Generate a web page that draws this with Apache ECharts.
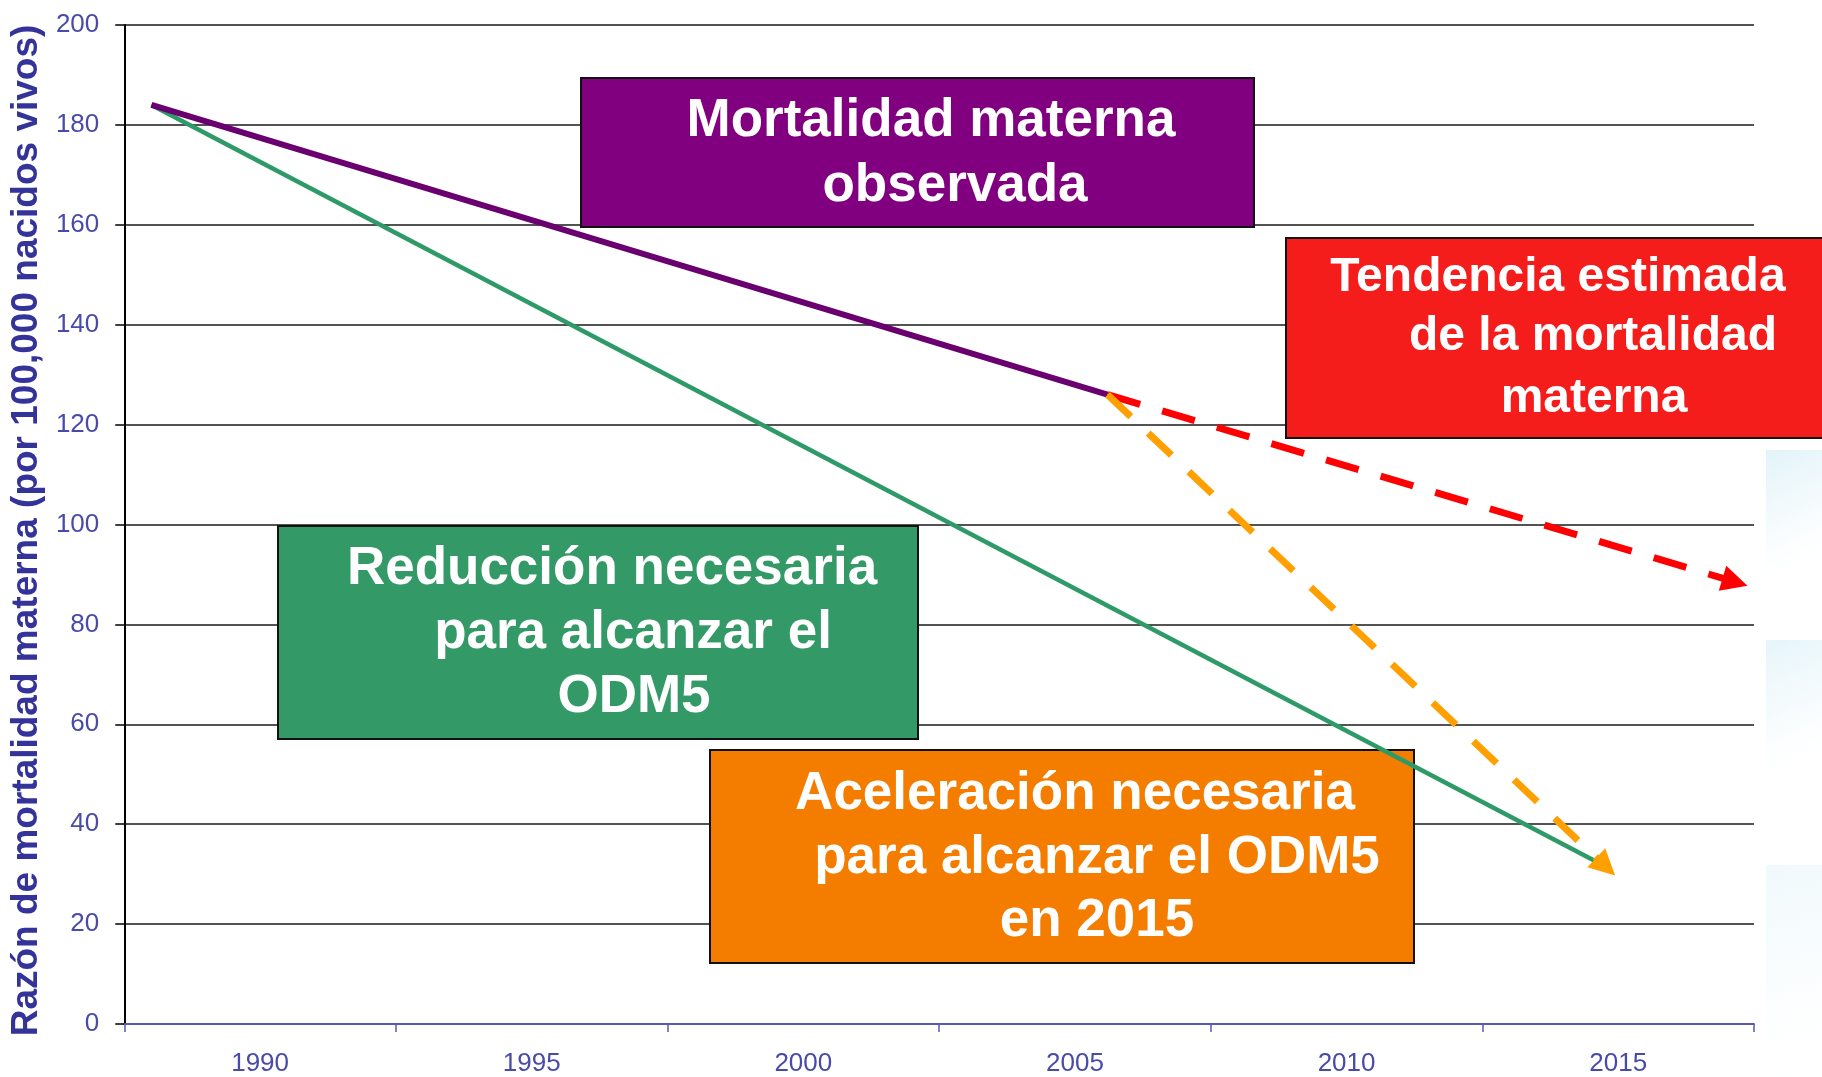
<!DOCTYPE html>
<html>
<head>
<meta charset="utf-8">
<script src="https://cdn.jsdelivr.net/npm/echarts@6/dist/echarts.min.js"></script>
<style>
html,body{margin:0;padding:0;background:#ffffff;}
#chart{width:1822px;height:1077px;}
</style>
</head>
<body>
<div id="chart"></div>
<script>
// ---- data ----
const yearCategories = ['1988','1989','1990','1991','1992','1993','1994','1995','1996','1997',
  '1998','1999','2000','2001','2002','2003','2004','2005','2006','2007',
  '2008','2009','2010','2011','2012','2013','2014','2015','2016','2017'];
const tickLabels = ['1990','1995','2000','2005','2010','2015'];
const yTicks = [0,20,40,60,80,100,120,140,160,180,200];

const observedYears = [1988, 2005.6];
const observedValues = [184, 126];
const requiredYears = [1988, 2014.6];
const requiredValues = [184, 32.5];
const trendYears = [2005.6, 2017.15];
const trendValues = [126, 88.5];
const accelYears = [2005.6, 2014.77];
const accelValues = [126, 31.5];

const yAxisTitle = 'Razón de mortalidad materna (por 100,000 nacidos vivos)';
const boxObserved = ['Mortalidad materna', 'observada'];
const boxTrend = ['Tendencia estimada', 'de la mortalidad', 'materna'];
const boxRequired = ['Reducción necesaria', 'para alcanzar el', 'ODM5'];
const boxAccel = ['Aceleración necesaria', 'para alcanzar el ODM5', 'en 2015'];

// ---- helpers ----
function pairs(xs, ys){ return xs.map((x,i)=>[x, ys[i]]); }
const FONT = '"Liberation Sans", Arial, sans-serif';

function box(x, y, w, h, fill, lines, centers, ys, size){
  const els = [{
    type:'rect', z:5,
    shape:{x:x, y:y, width:w, height:h},
    style:{fill:fill, stroke:'#111', lineWidth:2}
  }];
  lines.forEach((t,i)=>{
    els.push({
      type:'text', z:6,
      x:centers[i], y:ys[i],
      style:{text:t, fill:'#ffffff', fontSize:size, fontWeight:'bold', fontFamily:FONT,
             align:'center', verticalAlign:'middle'}
    });
  });
  return els;
}

const chart = echarts.init(document.getElementById('chart'), null, {renderer:'canvas'});

function blob(y, h, a){
  return {type:'rect', z:1, shape:{x:1766, y:y, width:56, height:h},
    style:{fill:new echarts.graphic.LinearGradient(0,0,1,1,[
      {offset:0,color:'rgba(212,238,247,'+a+')'},
      {offset:0.5,color:'rgba(232,246,251,'+(a*0.7)+')'},
      {offset:1,color:'rgba(255,255,255,0)'}])}};
}

const graphics = [].concat(
  [blob(450, 120, 0.7), blob(640, 130, 0.6), blob(865, 212, 0.35)],
  box(581, 78, 673, 149, '#800080', boxObserved, [931, 955], [121, 186], 53),
  box(1286, 238, 545, 200, '#F51C1C', boxTrend, [1558, 1593, 1594], [278, 337, 399], 48),
  box(278, 526, 640, 213, '#339966', boxRequired, [612, 633, 634], [569, 633, 697], 53),
  box(710, 750, 704, 213, '#F47D00', boxAccel, [1075, 1097, 1097], [794, 858, 921], 53)
);

const option = {
  backgroundColor:'#ffffff',
  animation:false,
  grid:{left:124, right:68, top:25, bottom:50, containLabel:false},
  xAxis:[{
    type:'category',
    data:yearCategories,
    boundaryGap:true,
    axisLine:{show:true, lineStyle:{color:'#5a5ab4', width:2}},
    axisTick:{show:true, length:8, lineStyle:{color:'#5a5ab4', width:1.5},
      interval:function(idx){ return idx % 5 === 0; }},
    axisLabel:{color:'#4a4aa8', fontSize:26, fontFamily:FONT, margin:27,
      interval:function(idx, val){ return tickLabels.indexOf(val) >= 0; }},
    splitLine:{show:false}
  },{
    type:'value', min:1987.5, max:2017.5, show:false
  }],
  yAxis:{
    type:'value', min:yTicks[0], max:yTicks[yTicks.length-1], interval:20,
    name:yAxisTitle, nameLocation:'middle', nameRotate:90, nameGap:78,
    nameTextStyle:{color:'#333399', fontSize:37, fontWeight:'bold', fontFamily:FONT, padding:[0,12,0,0]},
    axisLine:{show:true, lineStyle:{color:'#000', width:2}},
    axisTick:{show:true, length:9, lineStyle:{color:'#000', width:1.5}},
    axisLabel:{color:'#4a4aa8', fontSize:26, fontFamily:FONT, margin:25},
    splitLine:{show:true, lineStyle:{color:'#1a1a1a', width:1.5}}
  },
  graphic:graphics,
  series:[
    {type:'line', name:'Mortalidad materna observada', xAxisIndex:1, yAxisIndex:0, z:10,
     data:pairs(observedYears, observedValues), symbol:'none',
     lineStyle:{color:'#6A0070', width:6, cap:'butt'}},
    {type:'line', name:'Reducción necesaria', xAxisIndex:1, yAxisIndex:0, z:9,
     data:pairs(requiredYears, requiredValues), symbol:'none',
     lineStyle:{color:'#2E9A68', width:4.5, cap:'butt'}},
    {type:'lines', name:'Tendencia estimada', coordinateSystem:'cartesian2d', xAxisIndex:1, yAxisIndex:0, z:11,
     symbol:['none','triangle'], symbolSize:[22,26],
     lineStyle:{color:'#FF0000', width:7, type:[34,23], opacity:1, curveness:0},
     data:[{coords:pairs(trendYears, trendValues)}]},
    {type:'lines', name:'Aceleración necesaria', coordinateSystem:'cartesian2d', xAxisIndex:1, yAxisIndex:0, z:11,
     symbol:['none','triangle'], symbolSize:[22,26],
     lineStyle:{color:'#FFA000', width:7, type:[32,24], opacity:1, curveness:0},
     data:[{coords:pairs(accelYears, accelValues)}]}
  ]
};
chart.setOption(option);
</script>
</body>
</html>
